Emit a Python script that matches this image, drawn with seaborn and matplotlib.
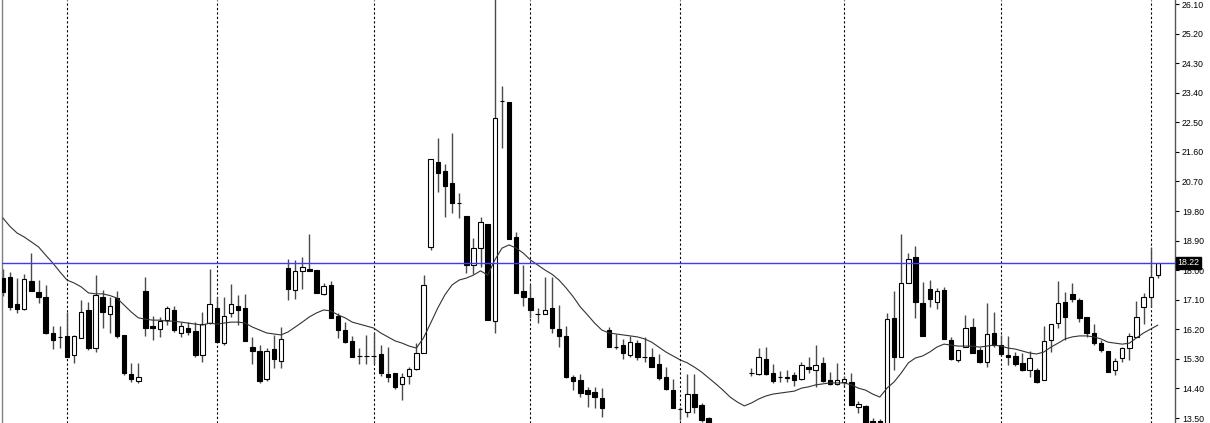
import numpy as np
import pandas as pd
import matplotlib
matplotlib.use("Agg")
import matplotlib.pyplot as plt
import seaborn as sns

# --- Daily OHLC bars (oldest first) ---
opens = [
    17.76, 17.79, 16.97, 16.82, 17.67, 17.34, 17.19, 16.09, 15.97, 16.00,
    15.42, 15.94, 16.79, 15.63, 17.19, 16.67, 17.15, 16.03, 14.84, 14.63,
    17.37, 16.30, 16.21, 16.48, 16.79, 16.09, 16.24, 16.15, 15.42, 16.39,
    16.85, 15.78, 16.70, 16.91, 16.85, 15.66, 15.54, 14.69, 15.60, 15.24,
    18.07, 17.40, 17.98, 18.04, 18.01, 17.28, 17.55, 16.61, 16.18, 15.85,
    15.39, 15.39, 15.39, 15.45, 14.84, 14.87, 14.54, 14.78, 14.99, 15.48,
    18.71, 21.29, 21.02, 20.65, 20.04, 19.65, 18.16, 18.67, 19.41, 16.45,
    23.15, 23.12, 19.01, 17.37, 17.15, 16.67, 16.67, 16.85, 16.21, 16.00,
    14.75, 14.66, 14.35, 14.29, 14.11, 16.18, 15.66, 15.72, 15.42, 15.78,
    15.36, 15.36, 15.15, 14.75, 14.35, 13.78, 13.68, 14.23, 13.90, 13.50,
    13.20, 12.95, 13.05, 12.85, 12.90, 14.87, 14.84, 15.30, 14.87, 14.75,
    14.72, 14.81, 14.69, 15.05, 14.96, 15.18, 14.66, 14.54, 14.60, 14.60,
    13.84, 13.87, 13.41, 13.41, 13.20, 16.55, 15.36, 17.61, 18.40, 17.00,
    17.43, 17.03, 17.40, 15.88, 15.27, 15.66, 16.27, 15.57, 15.21, 16.09,
    15.72, 15.42, 15.39, 15.18, 14.96, 14.96, 14.66, 15.88, 16.39, 17.03,
    17.28, 17.09, 16.58, 16.09, 15.78, 15.54, 14.96, 15.33, 15.63, 15.97,
    16.88, 17.19, 17.85,
]
highs = [
    18.04, 17.95, 17.76, 17.88, 18.52, 17.70, 17.55, 16.30, 16.30, 16.73,
    16.03, 17.09, 17.03, 17.85, 17.40, 17.19, 17.37, 16.03, 15.18, 15.18,
    17.79, 16.61, 16.58, 16.91, 16.91, 16.42, 16.42, 16.42, 16.73, 18.04,
    17.19, 17.19, 17.58, 17.25, 17.28, 15.97, 15.72, 15.63, 16.03, 16.27,
    18.34, 18.31, 18.40, 19.10, 18.01, 17.61, 17.67, 16.70, 16.42, 16.00,
    15.63, 16.03, 16.09, 15.72, 15.66, 14.87, 14.87, 15.05, 15.78, 17.85,
    21.38, 22.02, 21.23, 22.17, 20.35, 19.65, 18.98, 19.62, 19.41, 26.40,
    23.61, 23.12, 19.16, 18.16, 17.55, 16.85, 17.79, 17.79, 16.94, 16.30,
    14.81, 14.84, 14.45, 14.45, 14.41, 16.27, 16.06, 15.91, 16.00, 15.88,
    15.97, 15.63, 15.45, 15.05, 14.69, 13.84, 14.84, 14.84, 13.96, 13.53,
    13.30, 13.25, 13.20, 13.10, 13.25, 15.02, 15.63, 15.66, 15.15, 14.93,
    14.96, 14.90, 15.21, 15.36, 15.72, 15.36, 14.90, 15.18, 14.78, 14.87,
    14.02, 13.90, 13.50, 13.47, 16.70, 17.37, 19.10, 18.52, 18.74, 17.64,
    17.70, 17.46, 17.49, 15.97, 15.57, 16.64, 16.55, 15.66, 17.00, 16.73,
    16.03, 16.00, 15.51, 15.48, 15.54, 15.02, 16.30, 16.36, 17.67, 17.34,
    17.61, 17.15, 16.58, 16.36, 15.88, 15.54, 15.33, 15.66, 16.09, 17.06,
    17.31, 18.71, 18.22,
]
lows = [
    17.20, 16.79, 16.70, 16.79, 17.37, 17.00, 16.06, 15.60, 15.63, 15.36,
    15.18, 15.94, 15.57, 15.51, 16.24, 16.09, 15.94, 14.81, 14.60, 14.57,
    16.00, 15.88, 15.97, 16.33, 16.12, 15.97, 16.03, 15.36, 15.21, 16.36,
    15.81, 15.72, 16.58, 16.33, 15.85, 15.15, 14.57, 14.63, 15.02, 15.02,
    17.09, 17.12, 17.43, 17.98, 17.31, 17.25, 16.55, 15.94, 15.78, 15.36,
    15.15, 15.15, 15.15, 14.78, 14.60, 14.38, 14.05, 14.54, 14.96, 15.48,
    18.61, 20.38, 19.62, 19.74, 19.59, 17.91, 17.88, 18.10, 16.48, 16.09,
    21.72, 18.95, 17.31, 16.91, 16.55, 16.39, 16.67, 16.09, 15.66, 14.72,
    14.35, 14.14, 13.84, 13.81, 13.53, 15.66, 15.60, 15.30, 15.36, 15.27,
    15.21, 15.05, 14.66, 14.35, 13.81, 13.44, 13.53, 13.65, 13.38, 13.05,
    12.85, 12.70, 12.75, 12.60, 12.70, 14.78, 14.81, 14.81, 14.57, 14.60,
    14.60, 14.48, 14.66, 14.87, 14.45, 14.60, 14.51, 14.51, 14.48, 13.90,
    13.65, 13.00, 13.10, 13.05, 13.00, 14.96, 15.36, 17.61, 16.55, 16.00,
    16.88, 16.82, 15.91, 15.27, 15.21, 15.66, 15.48, 15.18, 15.05, 15.66,
    15.42, 15.12, 15.08, 14.93, 14.75, 14.57, 14.66, 15.51, 16.24, 15.88,
    17.03, 16.42, 15.97, 15.72, 15.51, 14.90, 14.81, 15.21, 15.27, 15.97,
    16.36, 16.88, 17.76,
]
closes = [
    17.34, 16.88, 16.82, 17.73, 17.37, 17.19, 16.09, 15.88, 15.96, 15.36,
    16.00, 16.73, 15.63, 17.25, 16.73, 16.91, 16.00, 14.87, 14.69, 14.75,
    16.24, 16.24, 16.45, 16.85, 16.18, 16.30, 16.12, 15.42, 16.36, 16.97,
    15.81, 16.61, 16.97, 16.79, 15.85, 15.54, 14.63, 15.54, 15.30, 15.91,
    17.43, 17.98, 18.10, 17.98, 17.31, 17.52, 16.55, 16.18, 15.81, 15.36,
    15.39, 15.39, 15.38, 14.87, 14.75, 14.45, 14.75, 14.99, 15.48, 17.55,
    21.38, 20.96, 20.56, 20.04, 20.03, 18.16, 18.67, 19.47, 16.48, 22.63,
    23.14, 18.95, 17.31, 17.19, 16.79, 16.66, 16.79, 16.24, 16.00, 14.75,
    14.63, 14.26, 14.23, 14.14, 13.81, 15.66, 15.65, 15.48, 15.81, 15.36,
    15.35, 15.05, 14.72, 14.38, 13.81, 13.77, 14.23, 13.84, 13.44, 13.20,
    12.95, 13.05, 12.85, 12.90, 13.00, 14.86, 15.36, 14.84, 14.63, 14.74,
    14.75, 14.66, 15.12, 14.99, 15.12, 14.63, 14.54, 14.66, 14.69, 13.90,
    13.93, 13.15, 13.25, 13.20, 16.51, 15.36, 17.61, 18.34, 17.03, 16.00,
    17.12, 17.37, 15.91, 15.30, 15.57, 16.24, 15.48, 15.21, 16.06, 15.72,
    15.45, 15.36, 15.15, 14.96, 15.33, 14.60, 15.85, 16.36, 17.00, 16.58,
    17.12, 16.55, 16.09, 15.78, 15.57, 14.90, 15.24, 15.63, 16.00, 16.58,
    17.19, 17.79, 18.22,
]
# moving average as drawn on the chart
ma_values = [
    19.59, 19.33, 19.13, 19.01, 18.86, 18.71, 18.46, 18.22, 17.95, 17.70,
    17.61, 17.49, 17.31, 17.28, 17.28, 17.23, 17.15, 16.94, 16.73, 16.55,
    16.51, 16.48, 16.48, 16.45, 16.45, 16.42, 16.39, 16.36, 16.33, 16.39,
    16.36, 16.39, 16.42, 16.42, 16.39, 16.27, 16.18, 16.09, 16.06, 16.03,
    16.12, 16.27, 16.42, 16.58, 16.70, 16.79, 16.76, 16.64, 16.55, 16.42,
    16.36, 16.30, 16.24, 16.09, 15.97, 15.85, 15.78, 15.69, 15.63, 15.94,
    16.39, 16.85, 17.25, 17.55, 17.70, 17.76, 17.85, 17.98, 17.85, 18.31,
    18.67, 18.77, 18.67, 18.52, 18.31, 18.16, 18.01, 17.88, 17.70, 17.46,
    17.19, 16.88, 16.64, 16.39, 16.18, 16.09, 16.06, 16.03, 16.00, 15.97,
    15.91, 15.81, 15.66, 15.51, 15.39, 15.27, 15.18, 15.05, 14.90, 14.72,
    14.54, 14.35, 14.14, 13.99, 13.87, 13.96, 14.08, 14.17, 14.23, 14.26,
    14.29, 14.32, 14.41, 14.45, 14.51, 14.54, 14.57, 14.57, 14.57, 14.51,
    14.41, 14.35, 14.23, 14.14, 14.41, 14.60, 14.87, 15.18, 15.33, 15.39,
    15.51, 15.66, 15.75, 15.72, 15.69, 15.69, 15.69, 15.66, 15.69, 15.72,
    15.69, 15.63, 15.60, 15.54, 15.48, 15.45, 15.51, 15.66, 15.78, 15.91,
    15.97, 16.00, 16.00, 15.97, 15.91, 15.81, 15.78, 15.75, 15.78, 15.94,
    16.09, 16.21, 16.33,
]
# first bar of each month (period separators)
month_starts = [9, 30, 52, 74, 95, 118, 140, 161]
price_ticks = [13.50, 14.40, 15.30, 16.20, 17.10, 18.00, 18.90, 19.80,
               20.70, 21.60, 22.50, 23.40, 24.30, 25.20, 26.10]


def create_chart(output_file):
    """Draws the candlestick chart with its moving average and bid line."""
    # --- 1. Build the table ---
    df = pd.DataFrame({
        "open": opens, "high": highs, "low": lows, "close": closes,
        "ma": ma_values,
    })
    df["bar"] = np.arange(len(df))
    bull = df["close"] >= df["open"]
    df["body_low"] = df[["open", "close"]].min(axis=1)
    df["body_h"] = (df["close"] - df["open"]).abs()

    # --- 2. Figure setup ---
    sns.set_style("white")
    plt.rcParams["font.family"] = ["Liberation Sans", "DejaVu Sans"]

    fig = plt.figure(figsize=(12.10, 4.23), dpi=100)
    ax = fig.add_axes([2 / 1210, 0, 1173 / 1210, 1])

    # --- 3. Period separators ---
    for m in month_starts:
        ax.axvline(m, color="black", lw=0.8, linestyle=(0, (2, 2)), zorder=1)

    # --- 4. Candles ---
    ax.vlines(df["bar"], df["low"], df["high"], color="#4a4a4a", lw=1.0, zorder=2)
    up = df[bull]
    dn = df[~bull]
    ax.bar(up["bar"], up["body_h"], bottom=up["body_low"], width=0.62,
           color="white", edgecolor="black", linewidth=0.8, zorder=3)
    ax.bar(dn["bar"], dn["body_h"], bottom=dn["body_low"], width=0.62,
           color="black", edgecolor="black", linewidth=0.8, zorder=3)

    # --- 5. Moving average and bid line ---
    sns.lineplot(data=df, x="bar", y="ma", ax=ax, color="#333333",
                 linewidth=0.8, zorder=4)
    last = closes[-1]
    ax.axhline(last, color="#3b3bff", lw=1.0, zorder=5)

    # --- 6. Axes styling ---
    ax.set_xlim(-0.12, 164.4)
    ax.set_ylim(13.35, 26.222)
    ax.set_xticks([])
    ax.set_xlabel("")
    ax.set_ylabel("")
    ax.yaxis.tick_right()
    ax.set_yticks(price_ticks)
    ax.set_yticklabels([f"{p:.2f}" for p in price_ticks])
    ax.tick_params(axis="y", length=3, width=0.8, pad=2, labelsize=6.3,
                   colors="black")
    for side in ["top", "bottom"]:
        ax.spines[side].set_visible(False)
    ax.spines["left"].set_color("#808080")
    ax.spines["right"].set_color("#555555")
    ax.spines["left"].set_linewidth(1.0)
    ax.spines["right"].set_linewidth(1.0)

    ax.annotate(f"{last:.2f}", xy=(1, last), xycoords=("axes fraction", "data"),
                xytext=(2, 0), textcoords="offset points", ha="left", va="center",
                fontsize=6.3, color="white", annotation_clip=False, zorder=10,
                bbox=dict(boxstyle="square,pad=0.15", fc="black", ec="black"))

    fig.savefig(output_file, dpi=100)
    plt.close(fig)


if __name__ == "__main__":
    create_chart("out.png")
